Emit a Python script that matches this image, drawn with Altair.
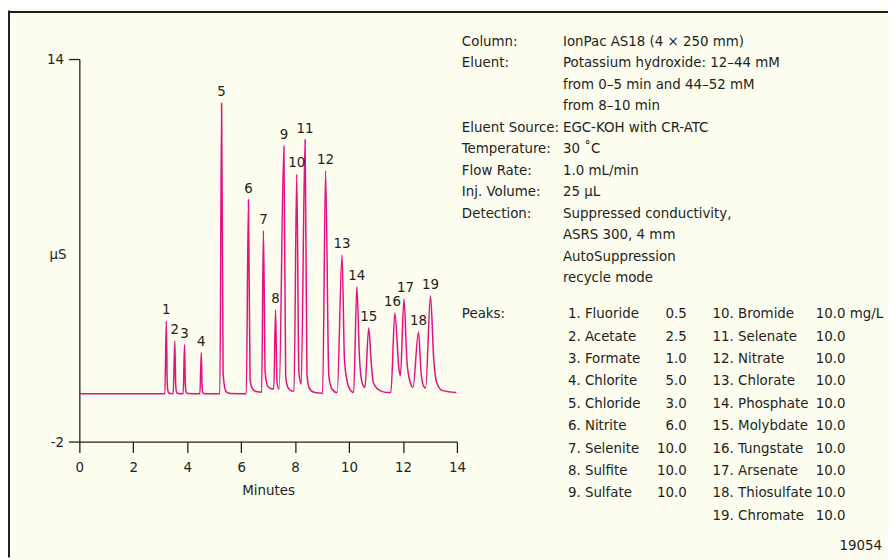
import altair as alt
import pandas as pd

# ---------------- data ----------------
trace_time = [
    0.00, 3.17,
    3.225, 3.255, 3.28, 3.33, 3.48,
    3.54, 3.57, 3.60, 3.66, 3.85,
    3.90, 3.93, 3.96, 4.02, 4.47,
    4.52, 4.55, 4.58, 4.65, 5.21,
    5.275, 5.33, 5.38, 5.45, 5.60, 6.19,
    6.27, 6.33, 6.38, 6.47, 6.60, 6.76,
    6.825, 6.89, 6.96, 7.05, 7.21,
    7.275, 7.33, 7.41,
    7.585, 7.65, 7.72, 7.82, 7.96,
    8.06, 8.14, 8.225,
    8.37, 8.44, 8.53, 8.70, 9.02,
    9.13, 9.25, 9.37, 9.56,
    9.74, 9.83, 9.94, 10.05, 10.17,
    10.29, 10.39, 10.48, 10.59,
    10.73, 10.83, 10.90, 11.15, 11.45, 11.55,
    11.70, 11.85, 11.905,
    12.035, 12.15, 12.27, 12.37,
    12.575, 12.67, 12.76, 12.84,
    13.02, 13.14, 13.25, 13.47, 13.98,
]
trace_signal = [
    0.00, 0.00,
    3.03, 0.61, 0.13, 0.02, 0.00,
    2.20, 0.47, 0.08, 0.01, 0.00,
    2.06, 0.38, 0.07, 0.01, 0.00,
    1.72, 0.33, 0.04, 0.00, 0.00,
    12.15, 0.89, 0.33, 0.08, 0.01, 0.00,
    8.11, 0.61, 0.30, 0.14, 0.08, 0.06,
    6.83, 0.89, 0.38, 0.24, 0.20,
    3.51, 0.47, 0.20,
    10.35, 0.75, 0.30, 0.14, 0.10,
    9.18, 0.90, 0.40,
    10.63, 0.80, 0.22, 0.06, 0.02,
    9.32, 0.75, 0.20, 0.05,
    5.79, 1.44, 0.47, 0.15, 0.05,
    4.48, 1.44, 0.48, 0.27,
    2.75, 1.20, 0.47, 0.13, 0.05, 0.05,
    3.38, 1.03, 0.75,
    3.96, 1.30, 0.47, 0.27,
    2.57, 0.89, 0.33, 0.24,
    4.09, 1.44, 0.47, 0.13, 0.05,
]

peak_ids = list(range(1, 20))
peak_time = [3.225, 3.54, 3.90, 4.52, 5.275, 6.27, 6.825, 7.275, 7.585, 8.06,
             8.37, 9.13, 9.74, 10.29, 10.73, 11.70, 12.035, 12.575, 13.02]
peak_height = [3.03, 2.20, 2.06, 1.72, 12.15, 8.11, 6.83, 3.51, 10.35, 9.18,
               10.63, 9.32, 5.79, 4.48, 2.75, 3.38, 3.96, 2.57, 4.09]

x_ticks = [0, 2, 4, 6, 8, 10, 12, 14]
y_ticks = [-2, 14]

param_labels = ["Column:", "Eluent:", "", "", "Eluent Source:", "Temperature:",
                "Flow Rate:", "Inj. Volume:", "Detection:"]
param_values = ["IonPac AS18 (4 × 250 mm)", "Potassium hydroxide: 12–44 mM",
                "from 0–5 min and 44–52 mM", "from 8–10 min", "EGC-KOH with CR-ATC",
                "30 ˚C", "1.0 mL/min", "25 µL", "Suppressed conductivity,",
                "ASRS 300, 4 mm", "AutoSuppression", "recycle mode"]
peaks_heading = "Peaks:"
peak_names = ["Fluoride", "Acetate", "Formate", "Chlorite", "Chloride", "Nitrite",
              "Selenite", "Sulfite", "Sulfate", "Bromide", "Selenate", "Nitrate",
              "Chlorate", "Phosphate", "Molybdate", "Tungstate", "Arsenate",
              "Thiosulfate", "Chromate"]
peak_conc = [0.5, 2.5, 1.0, 5.0, 3.0, 6.0, 10.0, 10.0, 10.0, 10.0, 10.0, 10.0,
             10.0, 10.0, 10.0, 10.0, 10.0, 10.0, 10.0]
conc_unit = "mg/L"
figure_id = "19054"

# ---------------- styling ----------------
FONT = "DejaVu Sans Condensed, Liberation Sans Narrow, sans-serif"
INK = "#231F20"
PINK = "#E5127D"
BG = "#FDFDF0"
FS = 15
W, H = 381, 386
PAD = {"left": 72, "top": 49, "right": 435, "bottom": 117}

trace_df = pd.DataFrame({"t": trace_time, "s": trace_signal})
peaks_df = pd.DataFrame({"id": peak_ids, "label": [str(i) for i in peak_ids],
                         "t": peak_time, "s": peak_height})

x_scale = alt.Scale(domain=[0, 14], nice=False, zero=False)
y_scale = alt.Scale(domain=[-2, 14], nice=False, zero=False)

x_axis = alt.Axis(values=x_ticks, tickSize=11, labelPadding=7, labelFontSize=FS,
                  labelFlush=False, labelOverlap=False, grid=False,
                  title="Minutes", titleFontSize=FS, titleFontWeight="normal",
                  titleY=53, titleBaseline="alphabetic",
                  domainColor=INK, tickColor=INK, labelColor=INK, titleColor=INK,
                  domainWidth=1.3, tickWidth=1.3)
y_axis = alt.Axis(values=y_ticks, tickSize=11, labelPadding=5, labelFontSize=FS,
                  labelFlush=False, labelOverlap=False, grid=False,
                  labelExpr="replace(datum.label, '−', '-')",
                  title="µS", titleAngle=0, titleX=-22, titleY=196,
                  titleAlign="center", titleBaseline="middle",
                  titleFontSize=FS, titleFontWeight="normal",
                  domainColor=INK, tickColor=INK, labelColor=INK, titleColor=INK,
                  domainWidth=1.3, tickWidth=1.3)

line = alt.Chart(trace_df).mark_line(color=PINK, strokeWidth=1.5, interpolate="monotone").encode(
    x=alt.X("t:Q", scale=x_scale, axis=x_axis),
    y=alt.Y("s:Q", scale=y_scale, axis=y_axis),
    order="t:Q",
)


def peak_text(flt, dx=0):
    return alt.Chart(peaks_df).transform_filter(flt).mark_text(
        dy=-7, dx=dx, baseline="alphabetic", fontSize=FS, color=INK
    ).encode(
        x=alt.X("t:Q", scale=x_scale),
        y=alt.Y("s:Q", scale=y_scale),
        text="label:N",
    )


peak_labels = [
    peak_text("datum.id != 16 && datum.id != 17"),
    peak_text("datum.id == 16", dx=-2.5),
    peak_text("datum.id == 17", dx=1.5),
]

one = pd.DataFrame({"_": [0]})


def block(lines, x, y, align="left", lh=21.7):
    txt = lines if len(lines) > 1 else lines[0]
    return alt.Chart(one).mark_text(
        align=align, baseline="alphabetic", fontSize=FS, color=INK, lineHeight=lh
    ).encode(x=alt.value(x), y=alt.value(y), text=alt.value(txt))


layers = [line] + peak_labels

# parameter block (plot-relative pixel positions)
LH_TOP = 21.7
TOP0 = -13.5
run, start = [], 0
for i, s in enumerate(param_labels + [""]):
    if s:
        if not run:
            start = i
        run.append(s)
    elif run:
        layers.append(block(run, 386, TOP0 + start * LH_TOP, lh=LH_TOP))
        run = []
layers.append(block(param_values, 488, TOP0, lh=LH_TOP))

# peaks table
LH_P = 22.6
P0 = 261.5
layers.append(block([peaks_heading], 386, P0))
col1 = [f"{i}. {n}" for i, n in zip(peak_ids[:9], peak_names[:9])]
col1c = [f"{c:.1f}" for c in peak_conc[:9]]
col2 = [f"{i}. {n}" for i, n in zip(peak_ids[9:], peak_names[9:])]
col2c = [f"{c:.1f}" for c in peak_conc[9:]]
col2c[0] = col2c[0] + " " + conc_unit
layers.append(block(col1, 493, P0, lh=LH_P))
layers.append(block(col1c, 613, P0, align="right", lh=LH_P))
layers.append(block(col2, 639, P0, lh=LH_P))
layers.append(block(col2c, 743, P0, lh=LH_P))
layers.append(block([figure_id], 810, 495.5, align="right"))

# frame lines (top and left edges of the figure box)
total_w = PAD["left"] + W + PAD["right"]
total_h = PAD["top"] + H + PAD["bottom"]
top_rule = alt.Chart(one).mark_rule(color=INK, strokeWidth=2).encode(
    x=alt.value(-PAD["left"]), x2=alt.value(total_w - PAD["left"]), y=alt.value(-PAD["top"] + 1.5))
left_rule = alt.Chart(one).mark_rule(color=INK, strokeWidth=2).encode(
    x=alt.value(-PAD["left"] + 1), y=alt.value(-PAD["top"]), y2=alt.value(total_h - PAD["top"]))
layers += [top_rule, left_rule]

chart = alt.layer(*layers).properties(
    width=W, height=H, padding=PAD, autosize=alt.AutoSizeParams(type="none")
).configure(background=BG, font=FONT).configure_view(stroke=None)

chart.save("out.html", embed_options={"renderer": "svg", "actions": False})
